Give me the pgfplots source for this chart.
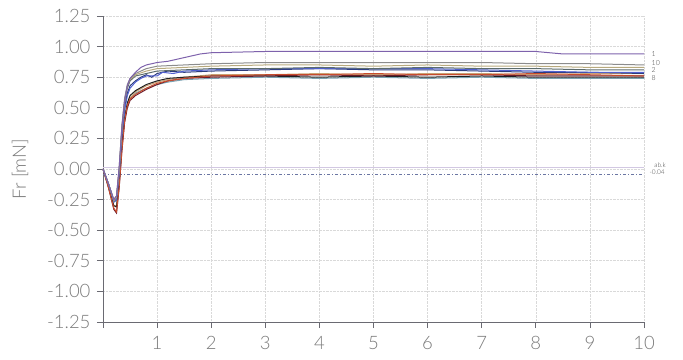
\documentclass[border=0pt]{standalone}
\usepackage{pgfplots}
\pgfplotsset{compat=1.18}
\usepackage{fontspec}
\setmainfont{Lato}[UprightFont={* Light}]
\definecolor{txt}{HTML}{7A7A7A}
\definecolor{axc}{HTML}{6A6A72}
\definecolor{cA}{HTML}{7E62AC}
\definecolor{cB}{HTML}{8C8C8C}
\definecolor{cC}{HTML}{B8AA7E}
\definecolor{cD}{HTML}{5C6C6C}
\definecolor{cE}{HTML}{2C3C7C}
\definecolor{cF}{HTML}{5060D0}
\definecolor{cG}{HTML}{C84C2C}
\definecolor{cH}{HTML}{6A1C2C}
\definecolor{cI}{HTML}{202020}
\definecolor{cJ}{HTML}{C8A274}
\definecolor{cK}{HTML}{7AA2B2}
\begin{document}
\begin{tikzpicture}
\useasboundingbox (-103pt,-37pt) rectangle (580pt,322pt);
\begin{axis}[
  scale only axis, width=541pt, height=306pt,
  xmin=0, xmax=10, ymin=-1.25, ymax=1.25,
  axis x line*=bottom, axis y line*=left,
  axis line style={axc, line width=0.8pt},
  xtick={0,1,...,10}, xticklabels={,1,2,3,4,5,6,7,8,9,10},
  ytick={-1.25,-1,-0.75,-0.5,-0.25,0,0.25,0.5,0.75,1,1.25},
  /pgf/number format/fixed, /pgf/number format/fixed zerofill, /pgf/number format/precision=2, /pgf/number format/assume math mode=true,
  tick align=outside, major tick length=6pt,
  tick style={axc, line width=0.8pt},
  ticklabel style={font=\fontsize{18.5}{20}\selectfont, text=txt},
  xticklabel style={yshift=-5pt},
  yticklabel style={xshift=-3pt},
  grid=major, grid style={draw=gray!30, densely dotted, line width=0.6pt},
  ylabel={Fr [mN]}, ylabel style={font=\fontsize{18.5}{20}\selectfont, text=txt, at={(axis description cs:0,0.5)}, anchor=center, rotate=0, yshift=83pt},
  clip=false,
  every axis plot/.append style={line width=1pt, no marks},
]
\addplot[draw=cA!35, line width=0.7pt] coordinates {(0,0.01) (10,0.01)};
\addplot[draw=cE!70, dash dot, line width=0.7pt] coordinates {(0,-0.04) (10,-0.04)};
% teal light
\addplot[cK] coordinates {(0,0) (0.1,-0.12) (0.2,-0.27) (0.25,-0.26) (0.3,-0.08) (0.35,0.22) (0.4,0.42) (0.45,0.53) (0.5,0.58) (0.6,0.62) (0.8,0.66) (1,0.69) (1.2,0.71) (1.5,0.73) (2,0.74) (3,0.75) (4,0.74) (5,0.75) (6,0.74) (7,0.75) (8,0.74) (9,0.74) (10,0.74)};
% tan
\addplot[cJ] coordinates {(0,0) (0.1,-0.13) (0.2,-0.3) (0.25,-0.3) (0.3,-0.1) (0.35,0.2) (0.4,0.4) (0.45,0.52) (0.5,0.58) (0.6,0.63) (0.8,0.68) (1,0.71) (1.2,0.73) (1.5,0.75) (2,0.77) (3,0.77) (4,0.78) (5,0.77) (6,0.78) (7,0.78) (8,0.77) (9,0.78) (10,0.78)};
% black
\addplot[cI] coordinates {(0,0) (0.1,-0.14) (0.2,-0.3) (0.25,-0.31) (0.3,-0.1) (0.35,0.2) (0.4,0.42) (0.45,0.54) (0.5,0.6) (0.6,0.64) (0.8,0.69) (1,0.72) (1.2,0.74) (1.5,0.75) (2,0.76) (3,0.76) (4,0.75) (5,0.76) (6,0.75) (7,0.76) (8,0.75) (9,0.75) (10,0.75)};
% dark red
\addplot[cH] coordinates {(0,0) (0.1,-0.15) (0.2,-0.33) (0.25,-0.36) (0.3,-0.15) (0.35,0.15) (0.4,0.38) (0.45,0.5) (0.5,0.56) (0.6,0.6) (0.8,0.65) (1,0.69) (1.2,0.72) (1.5,0.74) (2,0.75) (3,0.76) (4,0.77) (5,0.76) (6,0.77) (7,0.77) (8,0.76) (9,0.76) (10,0.76)};
% red
\addplot[cG] coordinates {(0,0) (0.1,-0.15) (0.2,-0.32) (0.25,-0.35) (0.3,-0.14) (0.35,0.16) (0.4,0.4) (0.45,0.52) (0.5,0.57) (0.6,0.61) (0.8,0.66) (1,0.7) (1.2,0.72) (1.5,0.74) (2,0.76) (3,0.77) (4,0.77) (5,0.78) (6,0.77) (7,0.77) (8,0.78) (9,0.77) (10,0.76)};
% navy
\addplot[cE] coordinates {(0,0) (0.1,-0.12) (0.2,-0.26) (0.25,-0.24) (0.3,-0.02) (0.35,0.3) (0.4,0.5) (0.45,0.62) (0.5,0.68) (0.6,0.72) (0.7,0.75) (0.8,0.77) (0.9,0.75) (1,0.78) (1.2,0.8) (1.5,0.79) (2,0.8) (3,0.81) (4,0.82) (5,0.81) (6,0.81) (7,0.8) (8,0.79) (9,0.79) (10,0.78)};
% blue
\addplot[cF] coordinates {(0,0) (0.1,-0.12) (0.2,-0.27) (0.25,-0.25) (0.3,-0.04) (0.35,0.28) (0.4,0.48) (0.45,0.6) (0.5,0.66) (0.6,0.71) (0.7,0.74) (0.8,0.76) (1,0.76) (1.1,0.79) (1.3,0.78) (1.5,0.8) (2,0.81) (3,0.82) (4,0.82) (5,0.82) (6,0.82) (7,0.81) (8,0.8) (9,0.79) (10,0.79)};
% dark gray
\addplot[cD] coordinates {(0,0) (0.1,-0.12) (0.2,-0.26) (0.25,-0.23) (0.3,-0.02) (0.35,0.32) (0.4,0.54) (0.45,0.66) (0.5,0.72) (0.6,0.76) (0.8,0.78) (1,0.8) (1.5,0.81) (2,0.82) (3,0.82) (4,0.83) (5,0.82) (6,0.83) (7,0.82) (8,0.82) (9,0.81) (10,0.81)};
% khaki
\addplot[cC] coordinates {(0,0) (0.1,-0.12) (0.2,-0.26) (0.25,-0.23) (0.3,0) (0.35,0.34) (0.4,0.56) (0.45,0.68) (0.5,0.73) (0.6,0.77) (0.8,0.8) (1,0.82) (1.5,0.83) (2,0.84) (3,0.85) (4,0.85) (5,0.84) (6,0.85) (7,0.84) (8,0.84) (9,0.83) (10,0.83)};
% gray
\addplot[cB] coordinates {(0,0) (0.1,-0.12) (0.2,-0.25) (0.25,-0.22) (0.3,0.02) (0.35,0.36) (0.4,0.58) (0.45,0.69) (0.5,0.74) (0.6,0.78) (0.8,0.82) (1,0.84) (1.5,0.85) (2,0.86) (3,0.87) (4,0.87) (5,0.87) (6,0.87) (7,0.87) (8,0.86) (9,0.86) (10,0.85)};
% purple top
\addplot[cA] coordinates {(0,0) (0.1,-0.12) (0.2,-0.25) (0.25,-0.22) (0.3,0.02) (0.35,0.35) (0.4,0.56) (0.45,0.68) (0.5,0.74) (0.6,0.79) (0.7,0.83) (0.8,0.85) (1,0.87) (1.2,0.88) (1.5,0.91) (1.8,0.94) (2,0.95) (3,0.96) (4,0.96) (5,0.96) (6,0.96) (7,0.96) (8,0.96) (8.5,0.94) (9,0.94) (10,0.94)};
\node[font=\fontsize{7}{8}\selectfont, anchor=west, text=black!75, inner sep=1pt] at (axis cs:10.12,0.94) {1};
\node[font=\fontsize{7}{8}\selectfont, anchor=west, text=black!75, inner sep=1pt] at (axis cs:10.12,0.865) {10};
\node[font=\fontsize{7}{8}\selectfont, anchor=west, text=black!75, inner sep=1pt] at (axis cs:10.12,0.805) {2};
\node[font=\fontsize{7}{8}\selectfont, anchor=west, text=black!75, inner sep=1pt] at (axis cs:10.12,0.745) {8};
\node[font=\fontsize{6.5}{7}\selectfont, anchor=west, text=black!75, inner sep=1pt] at (axis cs:10.17,0.035) {ab.k};
\node[font=\fontsize{6.5}{7}\selectfont, anchor=west, text=black!75, inner sep=1pt] at (axis cs:10.08,-0.03) {-0.04};
\end{axis}
\end{tikzpicture}
\end{document}
